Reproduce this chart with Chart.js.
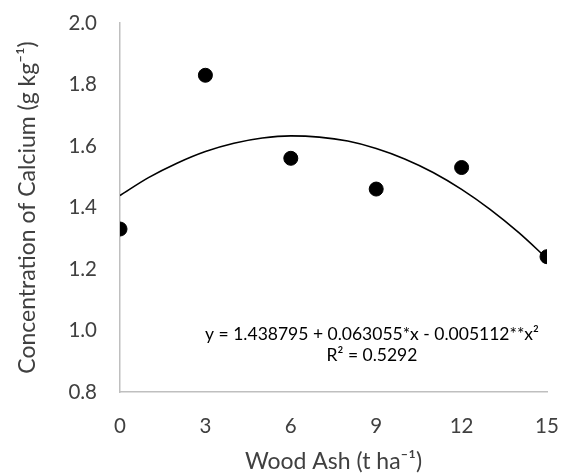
<!DOCTYPE html>
<html>
<head>
<meta charset="utf-8">
<script src="https://cdn.jsdelivr.net/npm/chart.js@4.4.1/dist/chart.umd.min.js"></script>
<style>
  html, body { margin: 0; padding: 0; background: #fff; }
  #wrap { width: 562px; height: 475px; }
</style>
</head>
<body>
<div id="wrap"><canvas id="caChart" width="562" height="475"></canvas></div>
<script>
// observed points
const woodAsh = [0, 3, 6, 9, 12, 15];
const calcium = [1.33, 1.83, 1.56, 1.46, 1.53, 1.24];

// fitted curve
const curveX = [0, 1, 2, 3, 4, 5, 6, 7, 8, 9, 10, 11, 12, 13, 14, 15];
const curveY = [1.439, 1.497, 1.544, 1.582, 1.609, 1.626, 1.633, 1.629, 1.616, 1.592, 1.558, 1.514, 1.459, 1.394, 1.319, 1.234];

const xTicks = [0, 3, 6, 9, 12, 15];
const yTicks = [0.8, 1.0, 1.2, 1.4, 1.6, 1.8, 2.0];

const eqLine1 = "y = 1.438795 + 0.063055*x - 0.005112**x²";
const eqLine2 = "R² = 0.5292";

const FONT = "Lato, 'Open Sans', sans-serif";
const TXT = "#404040";
const AXIS = "#bfbfbf";

const equationPlugin = {
    id: "equation",
    afterDraw(chart) {
        const ctx = chart.ctx;
        ctx.save();
        ctx.fillStyle = "#000";
        ctx.font = "17.5px " + FONT;
        ctx.textAlign = "center";
        ctx.textBaseline = "middle";
        ctx.fillText(eqLine1, 372, 334);
        ctx.fillText(eqLine2, 372, 355);
        ctx.restore();
    }
};

new Chart(document.getElementById("caChart").getContext("2d"), {
    type: "scatter",
    data: {
        datasets: [
            {
                label: "fit",
                data: curveX.map((x, i) => ({ x: x, y: curveY[i] })),
                showLine: true,
                borderColor: "#000",
                borderWidth: 1.6,
                pointRadius: 0,
                cubicInterpolationMode: "monotone",
                fill: false
            },
            {
                label: "Calcium",
                data: woodAsh.map((x, i) => ({ x: x, y: calcium[i] })),
                backgroundColor: "#000",
                borderColor: "#000",
                pointRadius: 7,
                pointHoverRadius: 7
            }
        ]
    },
    options: {
        responsive: false,
        animation: false,
        layout: { padding: { top: 23, right: 15, left: 14, bottom: 0 } },
        plugins: {
            legend: { display: false },
            tooltip: { enabled: false }
        },
        scales: {
            x: {
                type: "linear",
                min: 0,
                max: 15,
                afterBuildTicks: axis => { axis.ticks = xTicks.map(v => ({ value: v })); },
                grid: { display: false },
                border: { display: true, color: AXIS, width: 1.5 },
                ticks: { color: TXT, padding: 14, font: { family: FONT, size: 20.5 } },
                title: {
                    display: true,
                    text: "Wood Ash (t ha⁻¹)",
                    color: TXT,
                    font: { family: FONT, size: 23 },
                    padding: { top: 4, bottom: 0 }
                },
                afterFit: axis => {
                    axis.height = 83;
                    axis.paddingLeft = 0;
                    axis.paddingRight = 0;
                }
            },
            y: {
                min: 0.8,
                max: 2.0,
                afterBuildTicks: axis => { axis.ticks = yTicks.map(v => ({ value: v })); },
                grid: { display: false },
                border: { display: true, color: AXIS, width: 1.5 },
                ticks: {
                    color: TXT,
                    padding: 15,
                    font: { family: FONT, size: 20.5 },
                    callback: v => Number(v).toFixed(1)
                },
                title: {
                    display: true,
                    text: "Concentration of Calcium (g kg⁻¹)",
                    color: TXT,
                    font: { family: FONT, size: 23 },
                    padding: { top: 0, bottom: 8 }
                },
                afterFit: axis => {
                    axis.width = 106;
                    axis.paddingTop = 0;
                    axis.paddingBottom = 0;
                }
            }
        }
    },
    plugins: [equationPlugin]
});
</script>
</body>
</html>
